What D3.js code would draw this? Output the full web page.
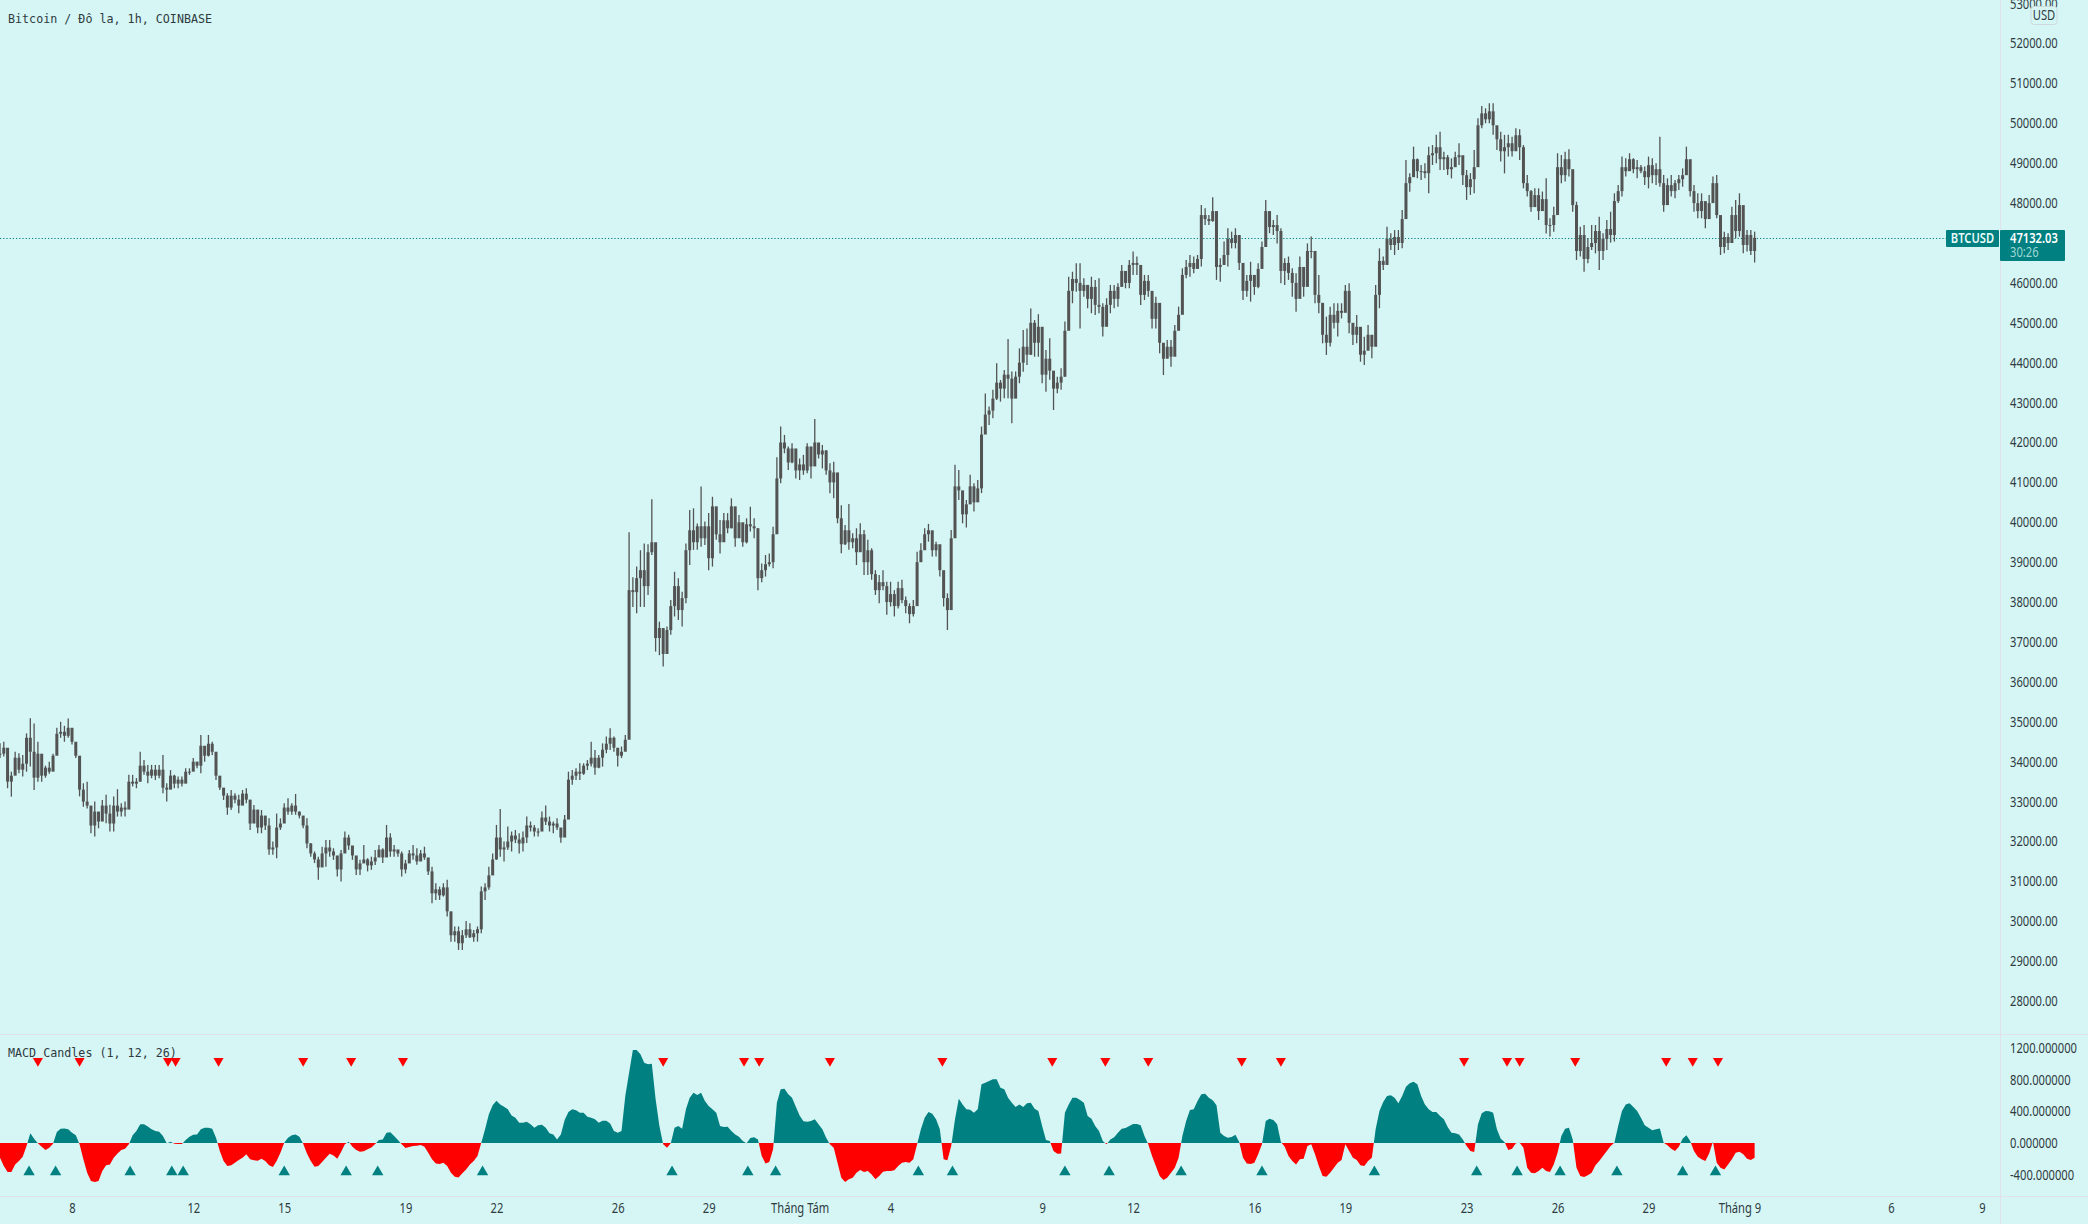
<!DOCTYPE html>
<html>
<head>
<meta charset="utf-8">
<title>BTCUSD 1h</title>
<script src="https://cdn.jsdelivr.net/npm/d3@7"></script>
<style>
  html, body { margin: 0; padding: 0; background: #d5f6f5; overflow: hidden; }
  svg { display: block; }
  .narrow, .axis text { font-family: "Noto Sans", sans-serif; font-size: 14px; fill: #2f3b3f; }
  .mono { font-family: "DejaVu Sans Mono", monospace; font-size: 11.7px; fill: #2f3b3f; }
</style>
</head>
<body>
<svg id="chart" width="2088" height="1224"></svg>
<script>
// 3 hour candles, first one is Jul 5 15:00 UTC
const startTime = "2021-07-05T15:00:00Z";
const stepHours = 3;

const highs = [
  34460,34500,33750,33750,34250,34210,34170,34710,35090,34960,
  34500,33950,33900,34000,34200,34850,35000,34900,35080,34800,
  34300,33960,33460,33500,32700,33000,32700,33040,33170,32920,
  33125,33310,32960,33000,33670,33670,33590,34250,34040,33920,
  33920,33920,33920,34170,33460,33790,33670,33630,33630,33835,
  33835,34090,34000,34670,34380,34670,34500,34040,33625,33335,
  33210,33290,33210,33170,33290,33335,32960,32915,32625,32790,
  32580,32580,32000,32700,32580,32960,33085,32960,33190,32750,
  32625,32580,31960,31750,31620,31870,32040,32040,31830,31540,
  31790,32250,32170,31870,31620,31540,31910,31580,31620,31790,
  31910,31830,32415,32207,31910,31790,31750,31540,31790,31910,
  31830,31790,31870,31540,31370,30954,30870,30954,31040,30200,
  29870,29870,29780,30010,29950,29780,29870,30870,30954,31370,
  31700,32415,32815,32000,32375,32250,32290,32207,32250,32625,
  32500,32415,32330,32750,32900,32625,32500,32580,32290,32665,
  33750,33790,33835,33960,33960,34040,34500,34295,34170,34460,
  34630,34840,34630,34295,34380,34670,39750,38620,38890,39300,
  39470,39450,40580,37880,37510,37260,37390,38054,38760,38600,
  38260,39470,40310,40350,39970,40900,40020,40230,40640,40270,
  40060,40230,40230,40600,40270,40180,39810,40100,40390,40100,
  39850,38970,39180,39220,39890,41630,42400,42190,41900,41980,
  41730,41600,41690,41980,41810,42590,41900,41940,41810,41480,
  41520,41230,40430,39930,40460,39725,39850,39975,39810,39560,
  39350,38800,38680,38800,38510,38510,38300,38510,38560,38140,
  37970,38054,39265,39475,39850,39960,39765,39515,39350,38720,
  38220,39810,41440,41310,40770,40560,41190,40980,41060,42400,
  43230,42900,43320,43985,43567,43820,44595,43780,43780,44360,
  44820,44860,45360,45070,45215,44190,44320,44610,43570,43650,
  43860,45030,46155,46280,46490,46490,46115,45820,46155,46075,
  46115,45490,45615,45950,45950,45990,46450,46280,46575,46785,
  46660,46365,46200,46200,45405,45655,44945,44360,44570,44570,
  44945,45405,46365,46575,46700,46660,46700,47950,47870,47700,
  48145,47285,46615,47035,47370,47285,47370,46865,46490,46200,
  46530,46115,46490,47035,48080,47745,47575,47700,47370,46615,
  46660,46365,46240,46660,46365,46990,47160,46490,46200,45030,
  45155,45405,45490,45490,45490,45950,45990,44985,45195,44485,
  44650,44945,44650,45950,46865,46660,47410,47245,47325,47325,
  47830,49080,48750,49415,49120,48955,49000,49415,49455,49710,
  49790,49290,49205,49120,49290,49500,49040,48830,48750,49330,
  50125,50435,50375,50500,50500,49915,49790,49710,49710,49665,
  49875,49850,49455,48705,48330,48370,48370,48290,48620,47620,
  47910,49250,49205,49290,49350,48745,48035,47410,47450,47120,
  47450,47450,47660,47245,47575,47785,48245,48455,49165,49125,
  49250,49125,49080,48955,48915,49165,49125,49000,49665,48705,
  48620,48705,48580,48705,48870,49415,48915,48455,48245,48245,
  47910,48205,48665,48705,47620,47285,47245,47910,48080,48245,
  47450,47325,47325,47285
];

const lows = [
  34090,34130,33335,33125,33670,33710,33630,33750,33880,33290,
  33500,33500,33600,33700,33950,34380,34600,34500,34600,34430,
  34090,33130,32870,32830,32207,32125,32330,32625,32460,32250,
  32250,32625,32625,32625,33040,33380,33335,33500,33670,33460,
  33585,33540,33585,33210,33000,33335,33335,33335,33380,33585,
  33670,33790,33835,33710,34000,34130,34170,33540,33290,33040,
  32670,32790,32960,32710,33040,32960,32290,32500,32207,32207,
  32290,31665,31665,31580,32290,32670,32670,32670,32670,32580,
  32330,31830,31620,31460,31040,31460,31370,31620,31540,31120,
  31000,31790,31790,31540,31160,31160,31460,31250,31290,31410,
  31665,31460,31700,31620,31620,31620,31120,31200,31540,31540,
  31415,31540,31540,31160,30450,30536,30536,30620,30118,29490,
  29490,29283,29283,29580,29580,29490,29490,29700,30536,30790,
  31290,31540,31620,31500,31790,31750,31960,31700,31750,31960,
  32250,32125,32125,32330,32415,32250,32207,32290,31970,32125,
  32580,33420,33540,33540,33670,33790,33877,33670,33835,33877,
  34210,34295,34250,33880,34090,34295,34800,37880,37720,37880,
  37880,38180,39180,36760,36670,36384,36970,37180,37640,37550,
  37390,37970,38930,39310,39310,39390,39430,38800,38890,39560,
  39220,39520,39725,39850,39390,39640,39390,39470,39770,39600,
  38300,38500,38640,38890,38850,40600,40980,41730,41310,41480,
  41100,41060,41190,41230,41100,41810,41600,41350,41190,40730,
  40600,39975,39225,39430,39310,39350,38930,39350,38680,38680,
  38560,38180,37970,38300,37680,37890,37640,37840,37970,37720,
  37470,37640,38140,39140,39475,39515,39140,39140,38640,37890,
  37300,37845,40310,40560,39975,39870,40480,40270,40640,40730,
  42360,42440,42610,43065,43025,43110,43110,42480,43230,43485,
  43775,43940,44195,44150,44150,43485,43275,43570,42815,43235,
  43320,43650,45280,45490,45780,44860,45655,45365,45240,45195,
  45240,44655,45240,45240,45365,45405,45990,45865,45865,46200,
  46200,45445,45570,45655,44860,44860,44235,43690,44110,43900,
  44235,44905,45405,46115,46155,46240,46365,46410,47450,47450,
  47535,46075,46030,46450,46410,46865,46865,46325,45570,45655,
  45530,45700,45865,46490,47495,47245,47200,46990,45990,45950,
  46075,45655,45280,46030,45655,46115,46615,45490,45240,44485,
  44195,44403,44860,44655,45110,45490,44740,44445,44485,44025,
  43945,44320,44110,44985,45365,46325,46490,46825,46700,46825,
  46870,48200,48285,48830,48620,48580,48620,48250,48955,49000,
  48830,48830,48705,48620,48955,48955,48455,48080,48205,48250,
  49080,49875,50000,50000,49710,49330,49040,48745,49165,49165,
  49455,49080,48370,48165,47785,47950,47575,47910,47240,47160,
  47285,48455,48500,48540,48665,47785,46575,46660,46280,46490,
  46825,46740,46325,46575,46825,47010,47035,48000,48165,48665,
  48870,48745,48620,48745,48455,48370,48500,48455,48410,47785,
  48285,48165,48120,48330,48410,48870,48165,47785,47620,47620,
  47370,47660,48035,47620,46700,46740,46825,47120,47120,47160,
  46740,46785,46700,46510
];

const closes = [
  34200,34350,33500,33650,34100,33800,33950,34600,34250,33600,
  34200,33650,33850,33750,34150,34700,34750,34650,34850,34500,
  34150,33300,33000,32900,32400,32750,32500,32900,32700,32450,
  32900,32750,32850,32800,33500,33450,33500,33900,33750,33650,
  33800,33650,33800,33350,33300,33650,33450,33550,33450,33750,
  33750,34000,33900,34400,34150,34450,34250,33650,33350,33150,
  32850,33150,33050,32900,33200,33050,32450,32800,32350,32650,
  32400,31800,31850,32350,32450,32850,32750,32900,32750,32650,
  32400,31950,31700,31550,31350,31700,31850,31750,31650,31300,
  31700,32100,31900,31650,31300,31450,31550,31400,31500,31600,
  31800,31600,32100,31750,31800,31700,31300,31450,31700,31650,
  31500,31700,31600,31250,30700,30800,30650,30850,30250,29650,
  29750,29450,29650,29800,29600,29700,29800,30750,30850,31150,
  31550,32100,31800,31850,32000,32150,32050,31950,32100,32400,
  32350,32250,32250,32600,32500,32400,32450,32350,32100,32550,
  33550,33650,33750,33700,33900,33950,34100,33850,34100,34300,
  34450,34600,34350,34150,34250,34550,38300,38250,38600,38800,
  38400,39250,39500,37100,37350,36700,37300,37900,38400,37800,
  38100,39300,39800,39500,39900,39600,39900,39100,40400,39700,
  39500,40050,39850,40400,39600,40000,39500,39950,39900,39850,
  38600,38800,38950,39000,39700,41100,42000,41850,41500,41850,
  41300,41450,41300,41900,41400,42000,41700,41800,41300,41000,
  41250,40100,39450,39800,39500,39600,39250,39700,39000,39300,
  38700,38300,38500,38400,38000,38200,37900,38350,38050,37900,
  37700,37900,39000,39300,39700,39800,39300,39450,38800,38100,
  37800,39600,40900,40800,40200,40450,40900,40500,40850,42200,
  42700,42800,43100,43500,43350,43700,43600,43100,43650,44000,
  44400,44200,45000,44500,44900,43700,44100,43800,43350,43500,
  43650,44800,45800,46100,46000,45800,45950,45600,45900,45450,
  45400,44900,45450,45800,45600,45900,46300,46000,46450,46500,
  46450,45700,46050,45800,45100,45500,44500,44100,44400,44150,
  44800,45200,46200,46400,46500,46350,46600,47700,47600,47550,
  47800,46400,46450,46700,47100,47000,47200,46500,45800,46050,
  46200,45900,46350,46900,47800,47400,47450,47300,46300,46500,
  46250,46000,45600,46400,45900,46800,46800,45700,45500,44700,
  44500,45200,45000,45300,45250,45800,45000,44700,44900,44200,
  44300,44700,44400,45700,46550,46450,47100,46950,47150,47000,
  47600,48500,48650,49100,48800,48800,48750,49200,49250,49400,
  49100,49150,48850,48900,49150,49200,48700,48400,48600,48900,
  49950,50250,50100,50300,49950,49600,49300,49400,49500,49300,
  49700,49400,48500,48300,47900,48200,47800,48100,47450,47450,
  47700,48900,48700,49100,48850,47950,46800,47200,46600,46900,
  47000,47300,46800,47100,47350,47200,48050,48300,48900,48800,
  49100,48850,48900,48800,48650,48950,48700,48850,48500,47950,
  48450,48300,48500,48600,48700,49100,48300,48000,47800,48050,
  47600,48000,48500,47700,46900,47150,47000,47700,47300,47950,
  46950,47200,46800,47132.03
];

const macdValues = [
  -185,-290,-366,-366,-270,-227,-173,-38,122,55,
  -4,-46,-88,-59,-8,139,181,185,173,131,
  97,-17,-206,-375,-480,-493,-480,-354,-282,-270,
  -185,-131,-88,-72,-17,97,152,236,236,210,
  173,152,143,88,-4,17,-8,-13,-13,38,
  80,105,109,173,194,194,181,67,-101,-227,
  -290,-282,-248,-215,-185,-143,-206,-219,-223,-198,
  -227,-282,-303,-227,-122,4,67,97,109,80,
  -8,-131,-227,-299,-290,-240,-185,-135,-156,-198,
  -114,-17,17,-46,-88,-109,-105,-80,-55,-13,
  38,46,131,135,88,38,-17,-63,-51,-38,
  -34,-25,-46,-122,-206,-257,-265,-248,-290,-375,
  -425,-434,-383,-333,-270,-227,-164,4,173,362,
  476,535,488,459,425,349,320,257,257,269,
  236,194,223,232,194,122,109,46,109,290,
  392,425,413,383,383,333,320,299,257,282,
  282,248,152,131,152,594,888,1175,1175,1120,
  1015,994,1002,552,215,-17,-59,-4,194,215,
  181,425,572,636,606,636,530,467,425,383,
  215,202,206,152,109,80,25,-4,63,72,
  46,-164,-257,-240,-80,509,678,686,615,573,
  459,349,274,269,278,299,236,173,67,-17,
  -59,-248,-438,-493,-459,-438,-375,-341,-366,-354,
  -396,-459,-417,-362,-354,-354,-345,-290,-248,-240,
  -248,-206,-17,173,320,392,370,299,173,-206,
  -219,-38,299,560,488,425,421,383,425,741,
  762,783,804,804,699,678,573,509,455,488,
  455,501,509,434,404,215,38,25,-101,-135,
  -131,383,488,573,573,543,509,341,307,215,
  152,25,-17,46,72,131,181,189,215,240,
  240,223,88,-17,-164,-290,-417,-467,-438,-375,
  -312,-185,88,278,417,425,530,615,623,573,
  539,476,131,88,67,76,105,13,-185,-257,
  -265,-248,-143,-17,278,307,290,236,13,-46,
  -164,-227,-270,-206,-198,-38,-17,-143,-290,-417,
  -425,-375,-312,-248,-215,-17,-101,-185,-215,-282,
  -290,-227,-185,173,404,518,594,602,573,501,
  594,711,754,775,741,594,488,425,392,392,
  341,299,202,131,122,109,46,-38,-101,-114,
  236,375,404,400,383,173,55,13,-88,-72,
  -4,4,-59,-312,-375,-383,-354,-312,-354,-366,
  -270,-122,88,181,194,46,-312,-417,-430,-408,
  -375,-282,-227,-164,-101,-38,4,215,404,488,
  501,455,404,320,223,194,160,173,185,4,
  -29,-72,-101,-46,55,97,25,-101,-173,-206,
  -227,-131,17,-248,-312,-333,-270,-206,-122,-109,
  -143,-198,-215,-185
];

// hours after startTime where the signal arrows sit
const sellHours = [30,63,133,139,173,240,278,319,525,589,601,657,746,833,875,909,983,1014,1159,1193,1203,1247,1319,1340,1360];
const buyHours = [23,44,103,136,145,225,274,299,382,532,592,614,727,754,843,878,935,999,1088,1169,1201,1235,1280,1332,1358];

const priceTicks = [28000,29000,30000,31000,32000,33000,34000,35000,36000,37000,38000,39000,40000,41000,42000,43000,44000,45000,46000,48000,49000,50000,51000,52000,53000];
const macdTicks = [1200,800,400,0,-400];
const timeTickDates = ["2021-07-08","2021-07-12","2021-07-15","2021-07-19","2021-07-22","2021-07-26","2021-07-29","2021-08-01","2021-08-04","2021-08-09","2021-08-12","2021-08-16","2021-08-19","2021-08-23","2021-08-26","2021-08-29","2021-09-01","2021-09-06","2021-09-09"];
const timeTickLabels = ["8","12","15","19","22","26","29","Tháng Tám","4","9","12","16","19","23","26","29","Tháng 9","6","9"];

const lastPrice = 47132.03;
const teal = "#008080";
const red = "#ff0000";
const candleColor = "#535353";
const lineColor = "#e2e0ea";

let svg = d3.select("#chart");
let start = new Date(startTime);
let hourMs = 3600 * 1000;

let x = d3.scaleUtc()
  .domain([new Date("2021-07-08T00:00:00Z"), new Date("2021-09-09T00:00:00Z")])
  .range([72, 1982]);
let y = d3.scaleLinear().domain([28000, 53000]).range([1001.1, 3.6]);
let yMacd = d3.scaleLinear().domain([-400, 1200]).range([1174.7, 1048]);

function xAtHour(h) {
  return x(new Date(start.getTime() + h * hourMs));
}

// the chart font is narrower than anything installed, so squeeze the glyphs
const squeezeBy = 0.8;
function squeeze(sel) {
  sel.each(function () {
    let t = d3.select(this);
    t.attr("x", (+t.attr("x") || 0) / squeezeBy).attr("transform", `scale(${squeezeBy},1)`);
  });
}

// separators
svg.append("line").attr("x1", 0).attr("x2", 2088).attr("y1", 1034.5).attr("y2", 1034.5).attr("stroke", lineColor);
svg.append("line").attr("x1", 0).attr("x2", 2088).attr("y1", 1196.5).attr("y2", 1196.5).attr("stroke", lineColor);
svg.append("line").attr("x1", 2000.5).attr("x2", 2000.5).attr("y1", 0).attr("y2", 1224).attr("stroke", lineColor);

// last price line
svg.append("line")
  .attr("x1", 0).attr("x2", 1946)
  .attr("y1", Math.round(y(lastPrice)) + 0.5).attr("y2", Math.round(y(lastPrice)) + 0.5)
  .attr("stroke", teal).attr("stroke-width", 1.2).attr("stroke-dasharray", "1.2,2");

// candles
let candles = svg.append("g");
closes.forEach(function (c, i) {
  let open = i === 0 ? c : closes[i - 1];
  let cx = xAtHour(i * stepHours);
  candles.append("line")
    .attr("x1", cx).attr("x2", cx)
    .attr("y1", y(highs[i])).attr("y2", y(lows[i]))
    .attr("stroke", candleColor).attr("stroke-width", 1.3);
  candles.append("rect")
    .attr("x", cx - 1.5).attr("width", 3)
    .attr("y", y(Math.max(open, c)))
    .attr("height", Math.max(1, Math.abs(y(open) - y(c))))
    .attr("fill", candleColor);
});

// macd histogram, one outline clipped above and below the zero line
let macdArea = d3.area()
  .x((d, i) => xAtHour(i * stepHours))
  .y0(yMacd(0))
  .y1(d => yMacd(d));
let defs = svg.append("defs");
defs.append("clipPath").attr("id", "macdUp").append("rect")
  .attr("x", 0).attr("width", 2000).attr("y", 1036).attr("height", yMacd(0) - 1036);
defs.append("clipPath").attr("id", "macdDown").append("rect")
  .attr("x", 0).attr("width", 2000).attr("y", yMacd(0)).attr("height", 1196 - yMacd(0));
svg.append("path").datum(macdValues).attr("d", macdArea).attr("fill", teal).attr("clip-path", "url(#macdUp)");
svg.append("path").datum(macdValues).attr("d", macdArea).attr("fill", red).attr("clip-path", "url(#macdDown)");

// signal arrows
svg.append("g").selectAll("path").data(sellHours).join("path")
  .attr("d", d3.symbol().type(d3.symbolTriangle).size(44))
  .attr("transform", d => `translate(${xAtHour(d)},1061) rotate(180)`)
  .attr("fill", red);
svg.append("g").selectAll("path").data(buyHours).join("path")
  .attr("d", d3.symbol().type(d3.symbolTriangle).size(56))
  .attr("transform", d => `translate(${xAtHour(d)},1172)`)
  .attr("fill", teal);

// axes
let priceAxis = d3.axisRight(y).tickValues(priceTicks).tickSize(0).tickPadding(10).tickFormat(d => d.toFixed(2));
svg.append("g").attr("class", "axis").attr("transform", "translate(2000,0)").call(priceAxis)
  .call(g => g.select(".domain").remove());

let macdAxis = d3.axisRight(yMacd).tickValues(macdTicks).tickSize(0).tickPadding(10).tickFormat(d => d.toFixed(6));
svg.append("g").attr("class", "axis").attr("transform", "translate(2000,0)").call(macdAxis)
  .call(g => g.select(".domain").remove());

let timeAxis = d3.axisBottom(x)
  .tickValues(timeTickDates.map(d => new Date(d + "T00:00:00Z")))
  .tickSize(0).tickPadding(0)
  .tickFormat((d, i) => timeTickLabels[i]);
svg.append("g").attr("class", "axis").attr("transform", "translate(0,1203)").call(timeAxis)
  .call(g => g.select(".domain").remove());

svg.selectAll(".axis text").call(squeeze);

// legends
svg.append("text").attr("class", "mono").attr("x", 8).attr("y", 23).text("Bitcoin / Đô la, 1h, COINBASE");
svg.append("text").attr("class", "mono").attr("x", 8).attr("y", 1057).text("MACD Candles (1, 12, 26)");

// USD badge
svg.append("rect").attr("x", 2031).attr("y", 6.5).attr("width", 26).attr("height", 18).attr("rx", 3)
  .attr("fill", "#d5f6f5").attr("stroke", "#cfd8dc");
svg.append("text").attr("class", "narrow").attr("x", 2044).attr("y", 20).attr("text-anchor", "middle")
  .text("USD").call(squeeze);

// last price labels
svg.append("rect").attr("x", 1946).attr("y", 230).attr("width", 53).attr("height", 17).attr("rx", 1).attr("fill", teal);
svg.append("text").attr("class", "narrow").attr("x", 1972.5).attr("y", 243.5).attr("text-anchor", "middle")
  .style("font-weight", "600").style("fill", "#e8fbfa").text("BTCUSD").call(squeeze);
svg.append("rect").attr("x", 2000).attr("y", 230).attr("width", 65).attr("height", 31).attr("rx", 1).attr("fill", teal);
svg.append("text").attr("class", "narrow").attr("x", 2010).attr("y", 243.5)
  .style("font-weight", "600").style("fill", "#ffffff").text(lastPrice.toFixed(2)).call(squeeze);
svg.append("text").attr("class", "narrow").attr("x", 2010).attr("y", 257.5)
  .style("fill", "#9fd6d4").text("30:26").call(squeeze);
</script>
</body>
</html>
